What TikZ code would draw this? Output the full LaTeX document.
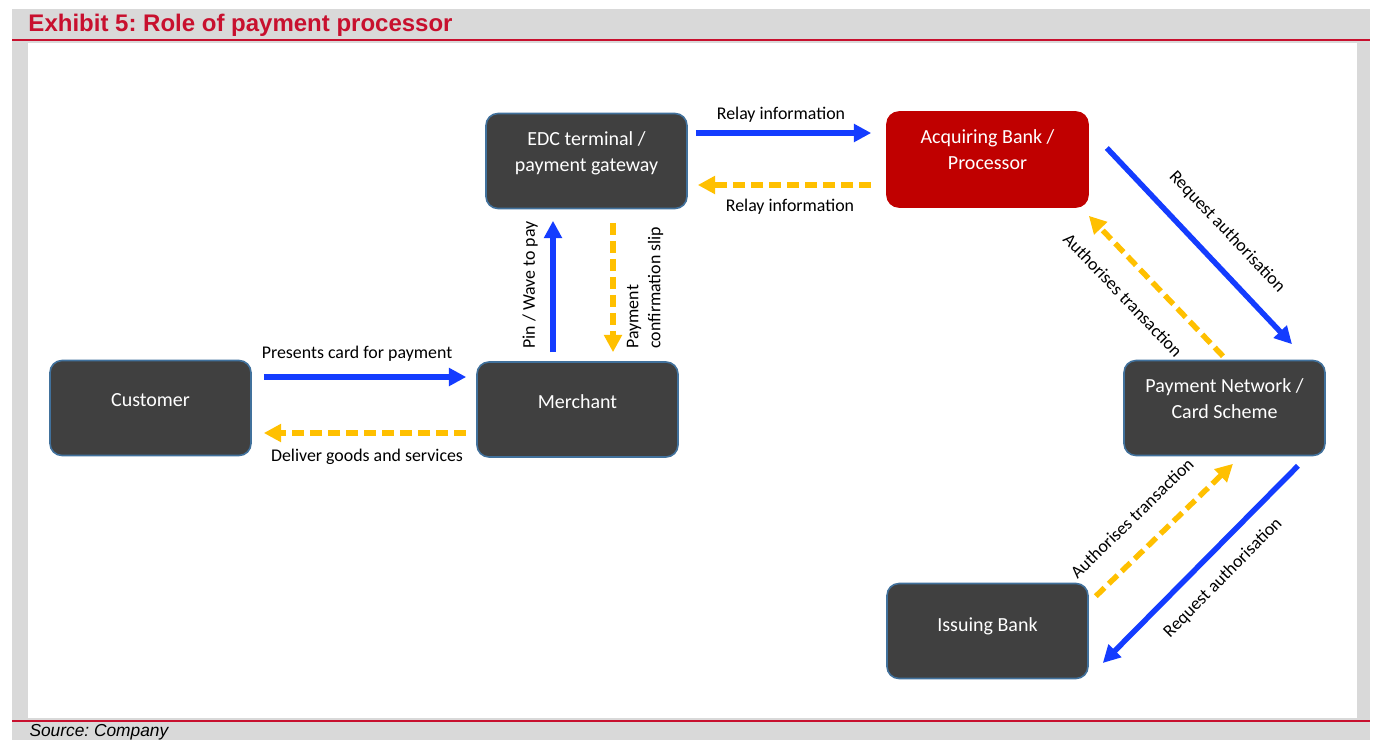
\documentclass[tikz,border=0pt]{standalone}
\usepackage{fontspec}
\setmainfont{Carlito}
\newfontfamily\arialfont{Liberation Sans}
\usetikzlibrary{arrows.meta,calc}
\frenchspacing

\definecolor{exhibitred}{RGB}{200,16,46}
\definecolor{panelgray}{RGB}{217,217,217}
\definecolor{boxgray}{RGB}{64,64,64}
\definecolor{boxedge}{RGB}{65,113,156}
\definecolor{acqred}{RGB}{192,0,0}
\definecolor{flowblue}{RGB}{20,60,255}
\definecolor{flowyellow}{RGB}{255,192,0}

\tikzset{
	box/.style={draw=boxedge, line width=1.2pt, fill=boxgray, rounded corners=9pt, minimum width=150.75pt, minimum height=71.25pt, inner sep=0pt},
	boxtext/.style={text=white, font=\fontsize{15}{19.5}\selectfont, align=center, inner sep=0pt},
	lbl/.style={text=black, font=\fontsize{13.4}{16.5}\selectfont, inner sep=0pt},
	blueflow/.style={draw=flowblue, line width=4.1pt, -{Triangle[length=13pt,width=13pt]}},
	yellowflow/.style={draw=flowyellow, line width=4.1pt, dash pattern=on 9pt off 4.5pt, -{Triangle[length=13pt,width=13pt]}}}
\tikzset{every picture/.style={line width=0.75pt}}

\begin{document}
\begin{tikzpicture}[x=0.75pt,y=0.75pt,yscale=-1,xscale=1]
	\useasboundingbox (0,0) rectangle (1381,740);

	%Shape: Rectangle (panel)
	\fill[panelgray] (12,9) rectangle (1370,740);
	\fill[white] (28,43) rectangle (1357,718);
	%Straight Lines
	\draw[exhibitred, line width=1.5pt] (12,39.5) -- (1370,39.5);
	\draw[exhibitred, line width=1.5pt] (12,721) -- (1370,721);

	% Text Node
	\node[anchor=base west, inner sep=0pt, text=exhibitred, font=\arialfont\bfseries\fontsize{18}{22}\selectfont] (title) at (28,31.5) {Exhibit 5: Role of payment processor};
	% Text Node
	\node[anchor=base west, inner sep=0pt, font=\arialfont\itshape\fontsize{13}{16}\selectfont] (source) at (29,736) {Source: Company};

	%Shape: Rounded Rect
	\node[box] (cust) at (150.5,408) {};
	\node[box] (merch) at (577.5,409.5) {};
	\node[box] (edc) at (586.5,161) {};
	\node[box, fill=acqred, draw=acqred] (acq) at (987.5,159.5) {};
	\node[box] (pnet) at (1224.5,408) {};
	\node[box] (issue) at (987.5,631) {};

	% Text Node
	\node[boxtext] (custtxt) at (150.5,400) {Customer};
	\node[boxtext] (merchtxt) at (577.5,402) {Merchant};
	\node[boxtext] (edctxt) at (586.5,153) {EDC terminal /\\payment gateway};
	\node[boxtext] (acqtxt) at (987.5,150) {Acquiring Bank /\\Processor};
	\node[boxtext] (pnettxt) at (1224.5,399) {Payment Network /\\Card Scheme};
	\node[boxtext] (issuetxt) at (987.5,626) {Issuing Bank};

	%Straight Lines
	\draw[blueflow] ($(cust.east)+(12,-31)$) -- ($(merch.west)+(-10,-32.5)$);
	\draw[yellowflow] ($(merch.west)+(-10,23.5)$) -- ($(cust.east)+(12,25)$);
	%Straight Lines
	\draw[blueflow] ($(merch.north)+(-24.5,-9)$) -- ($(edc.south)+(-33.5,11.5)$);
	\draw[yellowflow] ($(edc.south)+(26.5,13.5)$) -- ($(merch.north)+(35.5,-9)$);
	%Straight Lines
	\draw[blueflow] ($(edc.east)+(8,-28)$) -- ($(acq.west)+(-15,-26.5)$);
	\draw[yellowflow] ($(acq.west)+(-15,25.5)$) -- ($(edc.east)+(10,24)$);
	%Straight Lines
	\draw[blueflow] ($(acq.east)+(18,-11.5)$) -- ($(pnet.north)+(67.5,-15.5)$);
	\draw[yellowflow] ($(pnet.north)+(-1.5,-3.5)$) -- ($(acq.south east)+(0,8)$);
	%Straight Lines
	\draw[yellowflow] ($(issue.north east)+(7,13.5)$) -- ($(pnet.south)+(8.5,7.5)$);
	\draw[blueflow] ($(pnet.south)+(73.5,9.5)$) -- ($(issue.east)+(14,32)$);

	% Text Node
	\node[lbl] (presentlbl) at (357,354) {Presents card for payment};
	\node[lbl] (deliverlbl) at (367,457) {Deliver goods and services};
	\node[lbl, rotate=90] (pinlbl) at (530,285) {Pin / Wave to pay};
	\node[lbl, rotate=90, anchor=west, align=left] (sliplbl) at (645,349) {Payment\\confirmation slip};
	\node[lbl] (relaytoplbl) at (781,115) {Relay information};
	\node[lbl] (relaybotlbl) at (790,207) {Relay information};
	\node[lbl, rotate=-46.6] (reqacqlbl) at (1227,232) {Request authorisation};
	\node[lbl, rotate=-46.4] (authacqlbl) at (1123,295) {Authorises transaction};
	\node[lbl, rotate=44.2] (authisslbl) at (1132,518) {Authorises transaction};
	\node[lbl, rotate=45.3] (reqisslbl) at (1223,578) {Request authorisation};

\end{tikzpicture}
\end{document}
